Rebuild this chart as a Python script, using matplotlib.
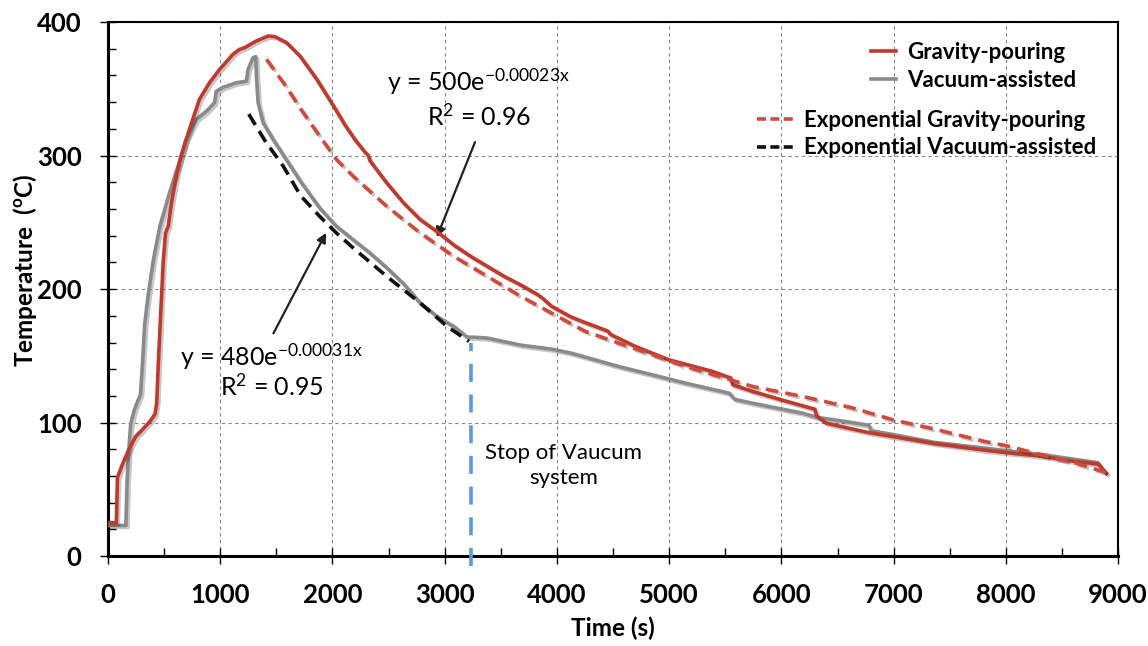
import matplotlib
matplotlib.use("Agg")
import matplotlib.pyplot as plt
import matplotlib.patheffects as pe
from matplotlib.ticker import MultipleLocator
from matplotlib.lines import Line2D

plt.rcParams["font.family"] = ["Lato", "DejaVu Sans"]
plt.rcParams["mathtext.fontset"] = "custom"
plt.rcParams["mathtext.rm"] = "Lato"
plt.rcParams["mathtext.it"] = "Lato:italic"
plt.rcParams["mathtext.bf"] = "Lato:bold"

# Gravity-pouring measured curve (time s, temperature C)
grav_t = [0, 75, 85, 130, 190, 250, 310, 380, 420, 435, 448, 463, 493, 513, 537, 567,
          612, 657, 726, 815, 905, 995, 1114, 1174, 1219, 1323, 1428, 1487, 1592, 1711,
          1861, 2010, 2111, 2200, 2290, 2320, 2335, 2484, 2634, 2783, 2933, 3082, 3232,
          3381, 3531, 3680, 3830, 3874, 3955, 4129, 4250, 4455, 4478, 4701, 5000, 5388,
          5552, 5567, 5746, 6045, 6194, 6299, 6313, 6403, 6761, 7000, 7358, 7806, 8015,
          8313, 8612, 8821, 8896]
grav_T = [25, 25, 59, 69, 80.5, 90, 95, 101.5, 106.5, 115, 143, 169, 221, 242, 247, 265,
          286, 301, 319.5, 342, 354.5, 364.5, 375.8, 379.5, 380.8, 385.8, 389.5, 389, 384.5, 374.5,
          357, 337, 323, 312, 302.5, 300, 296, 279.5, 264.5, 252, 243, 233, 224.5,
          217, 209.5, 203, 195.8, 193, 187, 179, 175, 168.5, 166, 157, 147, 138.3,
          133.3, 128.3, 123.3, 116, 112.5, 110, 105, 99.5, 92.8, 89.5, 84.5, 79.5, 77.5,
          75, 71, 69, 62]

# Vacuum-assisted measured curve
vac_t = [0, 160, 171, 188, 203, 233, 260, 290, 307, 328, 358, 403, 463, 552, 621, 696,
         786, 875, 950, 965, 1024, 1144, 1234, 1248, 1293, 1317, 1323, 1338, 1383, 1472,
         1716, 1886, 2036, 2185, 2335, 2484, 2634, 2783, 2933, 3082, 3202, 3260, 3381,
         3680, 3955, 4129, 4552, 4851, 5149, 5537, 5582, 5746, 6015, 6194, 6313, 6612,
         6780, 6800, 7000, 7358, 7806, 8015, 8313, 8612, 8821, 8866]
vac_T = [23, 23, 57, 82, 99, 109, 115, 121, 143, 174, 195, 221, 247, 273, 291, 312,
         327, 333, 339.5, 348, 351, 354.5, 355.7, 364.5, 373.3, 374, 359.5, 339.5, 324.5, 312,
         280.6, 260.8, 247, 237, 227, 216, 204, 189.5, 179.5, 172, 164, 164, 163.3,
         158, 155, 152, 142, 135.8, 129.5, 122, 117.5, 114.5, 110, 107, 104, 100.3,
         98, 94, 91, 85.3, 81, 78.8, 76.3, 72.5, 70, 64]

# Exponential trend lines
fit_g_t = [1413, 1597, 1716, 1886, 2036, 2185, 2484, 2783, 3082, 3381, 3680, 3979, 4254,
           4552, 4851, 5149, 5448, 5746, 6194, 6612, 7000, 7358, 7806, 8015, 8313, 8612, 8896]
fit_g_T = [372, 350.5, 335, 314.5, 297, 284.5, 262, 242, 224.5, 209.5, 194.5, 180.8, 168.3,
           159.5, 150.8, 142, 134.5, 127, 119.5, 111.5, 102, 95.3, 86, 82.5, 76, 70, 62.5]

fit_v_t = [1255, 1400, 1562, 1716, 1886, 2036, 2185, 2484, 2783, 3022, 3217]
fit_v_T = [331, 311, 292, 270, 254.5, 242, 230.8, 209.5, 189.5, 172, 160.8]

stop_t = [3232, 3232]
stop_T = [-7, 160]

red = "#c0392b"
red_fit = "#d04a3c"
gray = "#8a8a8a"
blue = "#5b9bd5"

shadow = [pe.SimpleLineShadow(offset=(1.5, -1.5), shadow_color="k", alpha=0.22), pe.Normal()]

fig = plt.figure(figsize=(11.48, 6.46), dpi=100)
ax = fig.add_axes([0.094, 0.139, 0.880, 0.827])

ax.plot(vac_t, vac_T, color=gray, lw=2.6, path_effects=shadow, zorder=3)
ax.plot(grav_t, grav_T, color=red, lw=2.6, path_effects=shadow, zorder=4)
ax.plot(fit_g_t, fit_g_T, color=red_fit, lw=2.6, ls=(0, (3.5, 2)), path_effects=shadow, zorder=5)
ax.plot(fit_v_t, fit_v_T, color="#111111", lw=2.6, ls=(0, (3.5, 2)), zorder=5)
ax.plot(stop_t, stop_T, color=blue, lw=2.6, ls=(0, (5, 3.5)), clip_on=False, zorder=6)

ax.set_xlim(0, 9000)
ax.set_ylim(0, 400)
ax.xaxis.set_major_locator(MultipleLocator(1000))
ax.xaxis.set_minor_locator(MultipleLocator(500))
ax.yaxis.set_major_locator(MultipleLocator(100))
ax.yaxis.set_minor_locator(MultipleLocator(20))
ax.grid(True, which="major", ls=(0, (3, 3)), color="#888888", lw=0.8)
ax.tick_params(which="major", direction="inout", length=12, width=1, labelsize=18.5, pad=13)
ax.tick_params(which="minor", direction="in", length=6, width=1)
for lab in ax.get_xticklabels() + ax.get_yticklabels():
    lab.set_fontweight("bold")
for s in ["left", "bottom"]:
    ax.spines[s].set_linewidth(2.2)
for s in ["top", "right"]:
    ax.spines[s].set_linewidth(1.5)

ax.set_xlabel("Time (s)", fontsize=17.5, fontweight="bold")
ax.set_ylabel(r"Temperature  ($\mathbf{^o}$C)", fontsize=17.5, fontweight="bold")
ax.xaxis.set_label_coords(0.5, -0.113)
ax.yaxis.set_label_coords(-0.068, 0.535)

# equations
ax.text(3300, 355, r"y = 500e$^{\mathrm{-0.00023x}}$", fontsize=18, ha="center", va="center")
ax.text(3306, 329, r"R$^2$ = 0.96", fontsize=18, ha="center", va="center")
ax.annotate("", xy=(2921, 237), xytext=(3280, 312),
            arrowprops=dict(arrowstyle="-|>", color="#222222", lw=1.6, mutation_scale=14))
ax.text(1455, 149, r"y = 480e$^{\mathrm{-0.00031x}}$", fontsize=18, ha="center", va="center")
ax.text(1460, 127, r"R$^2$ = 0.95", fontsize=18, ha="center", va="center")
ax.annotate("", xy=(1955, 244), xytext=(1463, 165),
            arrowprops=dict(arrowstyle="-|>", color="#222222", lw=1.6, mutation_scale=14))
ax.text(4060, 68, "Stop of Vaucum\nsystem", fontsize=16, ha="center", va="center",
        linespacing=1.35)

# legends
h1 = [Line2D([], [], color=red, lw=2.6), Line2D([], [], color=gray, lw=2.6)]
leg1 = ax.legend(h1, ["Gravity-pouring", "Vacuum-assisted"], loc="upper right",
                 bbox_to_anchor=(0.978, 1.0), frameon=False, handlelength=1.1,
                 handletextpad=0.5, labelspacing=0.3, prop={"size": 16, "weight": "bold"})
ax.add_artist(leg1)
h2 = [Line2D([], [], color=red_fit, lw=2.6, ls=(0, (2.5, 1.2))),
      Line2D([], [], color="#111111", lw=2.6, ls=(0, (2.5, 1.2)))]
ax.legend(h2, ["Exponential Gravity-pouring", "Exponential Vacuum-assisted"], loc="upper right",
          bbox_to_anchor=(0.998, 0.873), frameon=False, handlelength=1.6,
          handletextpad=0.5, labelspacing=0.3, prop={"size": 16, "weight": "bold"})

fig.savefig("out.png", dpi=100)
